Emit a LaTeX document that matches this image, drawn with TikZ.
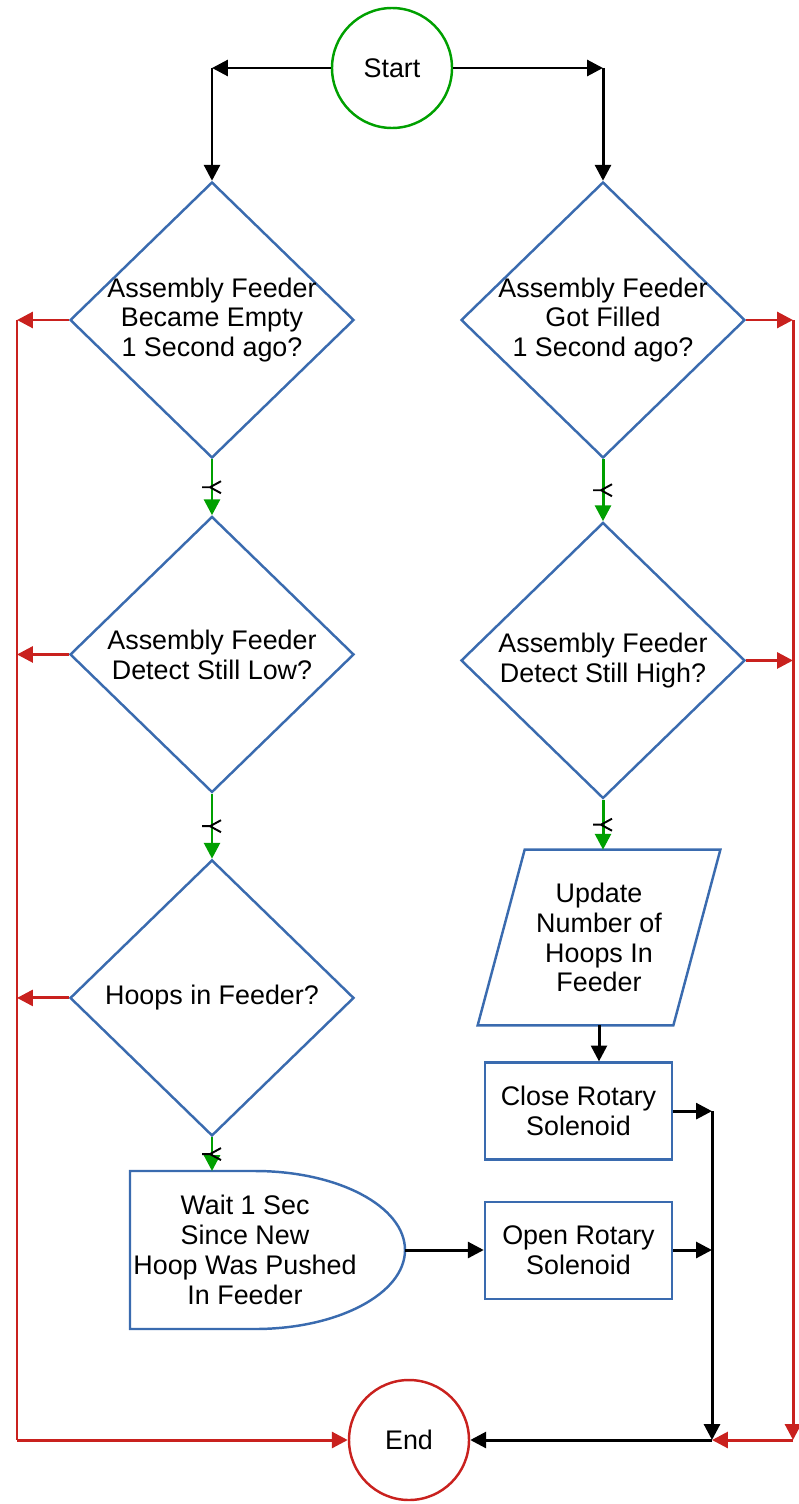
\documentclass[tikz,border=0pt]{standalone}
\usepackage{fontspec}
\setmainfont{Liberation Sans}
\usetikzlibrary{shapes.geometric, arrows.meta, positioning, calc}

\definecolor{shapeblue}{HTML}{3A6BAF}
\definecolor{yesgreen}{HTML}{00A000}
\definecolor{nored}{HTML}{C9211E}

\begin{document}
\begin{tikzpicture}[
    font=\fontsize{15.3}{17}\selectfont,
    decision/.style={diamond, draw=shapeblue, line width=1.4pt, minimum width=5.68cm, minimum height=5.52cm, inner xsep=-6pt, inner ysep=0pt, align=center},
    process/.style={rectangle, draw=shapeblue, line width=1.4pt, minimum width=3.74cm, minimum height=1.94cm, align=center},
    terminal/.style={circle, line width=1.4pt, minimum size=2.4cm},
    plain/.style={align=center, inner sep=0pt},
    arrow/.style={-{Triangle[length=9pt,width=9pt]}, line width=1.7pt},
    yes/.style={arrow, draw=yesgreen},
    no/.style={arrow, draw=nored},
    ymk/.style={black, line width=1.1pt}
]
    \useasboundingbox (0,0) rectangle (15.96,-30.08);

    \node[terminal, draw=yesgreen] (start) at (7.84,-1.36) {Start};
    \node[decision] (d1L) at (4.24,-6.4) {Assembly Feeder\\Became Empty\\1 Second ago?};
    \node[decision] (d1R) at (12.06,-6.4) {Assembly Feeder\\Got Filled\\1 Second ago?};
    \node[decision, below=1.12cm of d1L] (d2L) {Assembly Feeder\\Detect Still Low?};
    \node[decision, below=1.24cm of d1R] (d2R) {Assembly Feeder\\Detect Still High?};
    \node[decision, below=1.3cm of d2L] (d3L) {Hoops in Feeder?};
    \node[plain, below=1.0cm of d2R, xshift=-0.08cm, minimum width=3.9cm, minimum height=3.5cm] (upd) {Update\\Number of\\Hoops In\\Feeder};
    \node[process, below=0.72cm of upd, xshift=-0.41cm] (close) {Close Rotary\\Solenoid};
    \node[process, below=0.8cm of close] (open) {Open Rotary\\Solenoid};
    \node[plain] (wait) at (4.9,-25.0) {Wait 1 Sec\\Since New\\Hoop Was Pushed\\In Feeder};
    \node[terminal, draw=nored] (end) at (8.18,-28.8) {End};

    % outlines of the input and delay boxes
    \draw[shapeblue, line width=1.4pt] ($(upd.north west)+(0.47,0)$) -- ($(upd.north east)+(0.47,0)$)
        -- ($(upd.south east)+(-0.47,0)$) -- ($(upd.south west)+(-0.47,0)$) -- cycle;
    \draw[shapeblue, line width=1.4pt] ($(wait.center)+(-2.3,1.58)$) -- ($(wait.center)+(0.2,1.58)$)
        arc[start angle=90, end angle=-90, x radius=3cm, y radius=1.58cm] -- ($(wait.center)+(-2.3,-1.58)$) -- cycle;

    \coordinate (waitN) at ($(wait.center)+(0,1.58)$);
    \coordinate (waitE) at ($(wait.center)+(3.2,0)$);
    \coordinate (lft) at (0.34,-28.8);
    \coordinate (rgt) at (15.86,-28.8);
    \coordinate (jn) at (14.24,-28.8);

    % start
    \draw[arrow] (start.west) -- (start.west -| d1L.north);
    \draw[arrow] (start.west -| d1L.north) -- (d1L.north);
    \draw[arrow] (start.east) -- (start.east -| d1R.north);
    \draw[arrow] (start.east -| d1R.north) -- (d1R.north);

    % yes branches
    \draw[yes] (d1L.south) -- coordinate[pos=.5] (k1) (d2L.north);
    \draw[yes] (d2L.south) -- coordinate[pos=.5] (k2) (d3L.north);
    \draw[yes] (d3L.south) -- coordinate[pos=.5] (k3) (d3L.south |- waitN);
    \draw[yes] (d1R.south) -- coordinate[pos=.5] (k4) (d2R.north);
    \draw[yes] (d2R.south) -- coordinate[pos=.5] (k5) (d2R.south |- upd.north);
    \foreach \k in {k1,k2,k3,k4,k5}
        \draw[ymk] (\k) ++(-0.2,0) -- ++(0.16,0) -- ++(0.22,0.12) ++(-0.22,-0.12) -- ++(0.22,-0.12);

    % no branches
    \foreach \d in {d1L,d2L,d3L}
        \draw[no] (\d.west) -- (\d.west -| lft);
    \draw[nored, line width=1.7pt] (d1L.west -| lft) -- (lft);
    \draw[no] (lft) -- (end.west);
    \foreach \d in {d1R,d2R}
        \draw[no] (\d.east) -- (\d.east -| rgt);
    \draw[no] (d1R.east -| rgt) -- (rgt);
    \draw[no] (rgt) -- (jn);

    % actions
    \draw[arrow] (upd.south) -- (upd.south |- close.north);
    \draw[arrow] (waitE) -- (waitE -| open.west);
    \draw[arrow] (close.east) -- (close.east -| jn);
    \draw[arrow] (waitE -| open.east) -- (waitE -| jn);
    \draw[arrow] (close.east -| jn) -- (jn);
    \draw[arrow] (jn) -- (end.east);
\end{tikzpicture}
\end{document}
